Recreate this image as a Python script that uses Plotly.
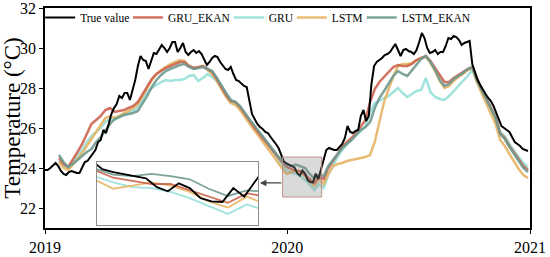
import plotly.graph_objects as go
import pandas as pd

# ---------------- data ----------------
START = pd.Timestamp("2019-01-01")
true_days = list(range(0, 729, 4))
true_value = [
    23.9, 23.9, 24.0, 24.15, 24.25, 24.1, 23.85, 23.7, 23.65, 23.8,
    23.85, 23.8, 23.75, 23.75, 24.0, 24.3, 24.35, 24.55, 24.75, 24.9,
    25.3, 25.4, 25.9, 25.75, 26.2, 26.7, 27.0, 27.2, 27.6, 27.5,
    27.75, 27.75, 27.4, 27.9, 28.4, 29.1, 29.6, 29.4, 29.35, 28.95,
    29.4, 29.75, 29.7, 29.9, 30.15, 30.0, 29.8, 30.0, 30.3, 30.3,
    29.8, 30.0, 30.25, 29.8, 29.65, 29.8, 29.9, 29.75, 29.85, 29.7,
    29.4, 29.15, 29.3, 29.5, 29.6, 29.55, 29.3, 29.1, 28.95, 28.9,
    29.05, 28.7, 28.4, 28.35, 28.2, 28.1, 28.05, 27.3, 26.7, 26.45,
    26.2, 26.05, 25.95, 25.8, 25.75, 25.55, 25.4, 25.2, 25.0, 24.6,
    24.32, 24.23, 24.16, 24.1, 24.03, 23.75, 23.62, 23.87, 23.72, 23.4,
    23.3, 23.28, 23.72, 23.45, 23.95, 24.5, 24.9, 25.0, 24.95, 24.9,
    24.9, 25.05, 25.2, 25.5, 26.1, 25.8, 25.75, 25.85, 25.9, 26.6,
    26.9, 26.35, 26.6, 28.2, 29.1, 29.3, 29.4, 29.5, 29.65, 29.7,
    29.8, 30.0, 30.2, 29.9, 29.6, 29.9, 29.95, 29.85, 29.8, 29.7,
    29.9, 30.3, 30.75, 30.5, 30.0, 29.75, 29.8, 29.9, 29.7, 29.8,
    29.8, 30.1, 30.5, 30.45, 30.6, 30.55, 30.4, 30.15, 30.25, 30.3,
    30.35, 29.2, 28.8, 28.4, 28.15, 27.9, 27.7, 27.5, 27.35, 27.1,
    26.75, 26.4, 26.1, 26.0, 25.9, 25.8, 25.55, 25.3, 25.2, 25.1,
    24.95, 24.9, 24.85,
]

model_days = list(range(21, 729, 7))
gru_ekan = [
    24.5, 24.2, 24.05, 24.4, 24.8, 25.2, 25.7, 26.2, 26.4, 26.6,
    26.9, 27.0, 26.8, 26.85, 26.9, 27.0, 27.1, 27.3, 27.7, 28.1,
    28.45, 28.7, 28.85, 29.0, 29.1, 29.2, 29.3, 29.3, 29.1, 29.0,
    29.05, 29.1, 28.95, 28.8, 28.45, 28.05, 27.65, 27.35, 27.3, 27.05,
    26.7, 26.4, 26.05, 25.75, 25.45, 25.2, 24.9, 24.55, 24.3, 24.05,
    23.95, 23.85, 23.85, 23.65, 23.45, 23.25, 23.55, 23.45, 24.0, 24.35,
    24.75, 25.05, 25.3, 25.5, 25.75, 26.1, 26.4, 27.3, 27.95, 28.3,
    28.55, 28.8, 29.05, 29.15, 29.1, 29.1, 29.2, 29.4, 29.5, 29.6,
    29.35, 29.0, 28.6, 28.3, 28.3, 28.5, 28.65, 28.8, 28.95, 29.05,
    28.45, 27.95, 27.5, 27.05, 26.55, 25.75, 25.5, 25.1, 24.75, 24.45,
    24.1, 23.9,
]
gru = [
    24.4, 24.1, 24.0, 24.3, 24.6, 24.9, 25.3, 25.6, 25.8, 26.0,
    26.3, 26.45, 26.4, 26.55, 26.7, 26.75, 26.85, 27.05, 27.4, 27.8,
    28.0, 28.15, 28.3, 28.4, 28.35, 28.4, 28.4, 28.45, 28.6, 28.65,
    28.35, 28.5, 28.7, 28.55, 28.35, 28.0, 27.6, 27.3, 27.25, 27.0,
    26.7, 26.4, 26.1, 25.8, 25.45, 25.2, 24.85, 24.5, 24.1, 23.9,
    23.75, 23.72, 23.6, 23.4, 23.15, 22.9, 23.2, 23.0, 23.65, 24.1,
    24.55, 24.9, 25.2, 25.45, 25.65, 25.85, 26.1, 26.8, 27.25, 27.35,
    27.5, 27.6, 27.8, 28.0, 27.75, 27.55, 27.7, 27.85, 27.9, 28.5,
    27.8, 27.55, 27.45, 27.4, 27.6, 27.85, 28.05, 28.3, 28.6, 28.9,
    28.3, 27.85, 27.4, 26.95, 26.45, 25.8, 25.6, 25.2, 24.85, 24.55,
    24.25, 24.05,
]
lstm = [
    24.3, 24.0, 23.9, 24.15, 24.45, 24.75, 25.1, 25.4, 25.8, 26.1,
    26.5, 26.6, 26.5, 26.6, 26.75, 26.85, 27.0, 27.2, 27.6, 28.05,
    28.4, 28.7, 28.9, 29.05, 29.2, 29.3, 29.4, 29.35, 29.1, 29.0,
    29.0, 29.1, 28.9, 28.7, 28.35, 27.95, 27.55, 27.25, 27.15, 26.9,
    26.55, 26.25, 25.9, 25.6, 25.25, 24.95, 24.65, 24.3, 24.0, 23.7,
    23.8, 23.9, 23.8, 23.6, 23.3, 23.1, 23.45, 23.2, 23.7, 24.1,
    24.2, 24.25, 24.35, 24.4, 24.45, 24.5, 24.55, 24.65, 25.3, 26.3,
    27.3, 27.95, 28.6, 29.1, 29.2, 29.2, 29.25, 29.4, 29.5, 29.55,
    29.25, 28.85, 28.35, 28.0, 28.1, 28.35, 28.55, 28.7, 28.9, 29.0,
    28.3, 27.75, 27.25, 26.75, 26.2, 25.4, 25.1, 24.7, 24.3, 23.95,
    23.65, 23.5,
]
lstm_ekan = [
    24.65, 24.3, 24.05, 24.2, 24.4, 24.6, 24.8, 24.95, 25.3, 25.55,
    25.9, 26.2, 26.45, 26.55, 26.65, 26.7, 26.75, 26.85, 27.2, 27.6,
    28.05, 28.4, 28.65, 28.85, 28.95, 29.05, 29.15, 29.2, 29.05, 28.95,
    29.0, 29.05, 28.95, 28.85, 28.5, 28.1, 27.75, 27.4, 27.3, 27.1,
    26.75, 26.45, 26.15, 25.85, 25.5, 25.25, 24.95, 24.6, 24.35, 24.15,
    24.1, 24.17, 24.1, 24.0, 23.7, 23.47, 23.65, 23.6, 24.1, 24.4,
    24.7, 25.0, 25.2, 25.4, 25.65, 25.9, 26.05, 26.3, 27.0, 27.5,
    27.85, 28.2, 28.6, 28.85, 28.7, 28.6, 28.9, 29.2, 29.45, 29.6,
    29.3, 28.9, 28.4, 28.1, 28.2, 28.45, 28.6, 28.75, 28.95, 29.05,
    28.4, 27.9, 27.45, 27.0, 26.5, 25.7, 25.45, 25.05, 24.7, 24.35,
    24.0, 23.8,
]

series_names = ["True value", "GRU_EKAN", "GRU", "LSTM", "LSTM_EKAN"]
y_ticks = [22, 24, 26, 28, 30, 32]
x_ticks = ["2019-01-01", "2020-01-01", "2021-01-01"]
x_tick_labels = ["2019", "2020", "2021"]
zoom_window = ["2019-12-25", "2020-02-22"]
zoom_temp = [22.55, 24.55]

# ---------------- figure ----------------
FONT = "Liberation Serif, Times New Roman, serif"
true_dates = [START + pd.Timedelta(days=d) for d in true_days]
model_dates = [START + pd.Timedelta(days=d) for d in model_days]

styles = {
    "GRU_EKAN": ("#CC6450", gru_ekan),
    "GRU": ("#97E0DA", gru),
    "LSTM": ("#E6B565", lstm),
    "LSTM_EKAN": ("#6F9A90", lstm_ekan),
}
draw_order = ["GRU", "LSTM", "GRU_EKAN", "LSTM_EKAN"]
legend_ids = {"True value": "legend", "GRU_EKAN": "legend2", "GRU": "legend3",
              "LSTM": "legend4", "LSTM_EKAN": "legend5"}
legend_x = {"legend": -0.010, "legend2": 0.171, "legend3": 0.379,
            "legend4": 0.509, "legend5": 0.653}

fig = go.Figure()
for name in draw_order:
    color, vals = styles[name]
    fig.add_trace(go.Scatter(x=model_dates, y=vals, mode="lines", name=name,
                             line=dict(color=color, width=2.5), opacity=0.9,
                             legend=legend_ids[name]))
fig.add_trace(go.Scatter(x=true_dates, y=true_value, mode="lines", name="True value",
                         line=dict(color="black", width=2), legend="legend"))

# inset (zoomed view)
for name in draw_order:
    color, vals = styles[name]
    fig.add_trace(go.Scatter(x=model_dates, y=vals, mode="lines", showlegend=False,
                             line=dict(color=color, width=1.8), opacity=0.9,
                             xaxis="x2", yaxis="y2"))
fig.add_trace(go.Scatter(x=true_dates, y=true_value, mode="lines", showlegend=False,
                         line=dict(color="black", width=1.8), xaxis="x2", yaxis="y2"))

fig.add_shape(type="rect", xref="x", yref="y",
              x0=zoom_window[0], x1=zoom_window[1], y0=zoom_temp[0], y1=zoom_temp[1],
              fillcolor="rgba(140,140,140,0.32)", line=dict(color="rgba(190,140,130,0.9)", width=1),
              layer="above")
fig.add_annotation(x=0.443, y=0.205, xref="paper", yref="paper", ax=23, ay=0,
                   showarrow=True, arrowhead=2, arrowsize=1, arrowwidth=1.3,
                   arrowcolor="#444444", text="")

legend_common = dict(orientation="h", y=1.023, xanchor="left", yanchor="top",
                     font=dict(size=11.5, family=FONT), bgcolor="rgba(0,0,0,0)",
                     itemwidth=30)
layout_legends = {lid: dict(legend_common, x=lx) for lid, lx in legend_x.items()}

fig.update_layout(
    width=550, height=257,
    margin=dict(l=45, r=20, t=8, b=29, autoexpand=False),
    paper_bgcolor="white", plot_bgcolor="white",
    font=dict(family=FONT, size=15, color="black"),
    **layout_legends,
    xaxis=dict(type="date", range=[x_ticks[0], x_ticks[-1]], tickvals=x_ticks,
               ticktext=x_tick_labels, showline=True, linecolor="black", linewidth=1.5,
               mirror=True, ticks="outside", ticklen=4, tickcolor="black",
               showgrid=False, zeroline=False, tickfont=dict(size=16), automargin=False,
               ticklabeloverflow="allow"),
    yaxis=dict(range=[21, 32], tickvals=y_ticks, showline=True, linecolor="black",
               linewidth=1.5, mirror=True, ticks="outside", ticklen=4, tickcolor="black",
               showgrid=False, zeroline=False, tickfont=dict(size=16), automargin=False,
               ticklabeloverflow="allow",
               title=dict(text="Temperature (°C)", font=dict(size=23), standoff=2)),
    xaxis2=dict(type="date", domain=[0.107, 0.439], anchor="y2", range=zoom_window,
                showticklabels=False, ticks="", showline=True, linecolor="#8c8c8c",
                linewidth=1, mirror=True, showgrid=False, zeroline=False, automargin=False),
    yaxis2=dict(domain=[0.014, 0.30], anchor="x2", range=zoom_temp,
                showticklabels=False, ticks="", showline=True, linecolor="#8c8c8c",
                linewidth=1, mirror=True, showgrid=False, zeroline=False, automargin=False),
)

fig.write_html("out.html", config={"displayModeBar": False},
               post_script="document.body.style.margin='0px';document.body.style.overflow='hidden';")
